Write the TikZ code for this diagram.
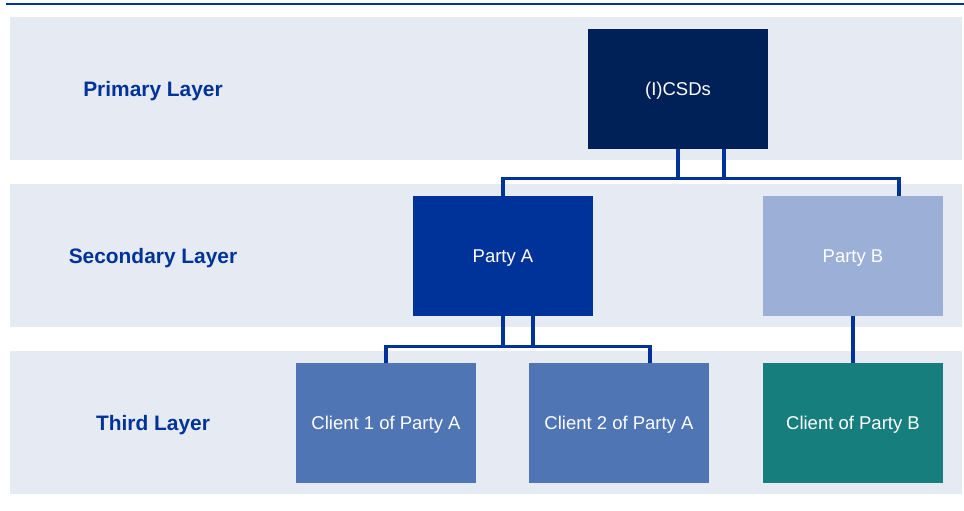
\documentclass[tikz,border=0pt]{standalone}
\usepackage{fontspec}
\setmainfont{Liberation Sans}
\definecolor{bandc}{HTML}{E6EAF3}
\definecolor{navy}{HTML}{002157}
\definecolor{blueA}{HTML}{003399}
\definecolor{blueB}{HTML}{9BAFD7}
\definecolor{clientA}{HTML}{4F75B5}
\definecolor{clientB}{HTML}{177E7E}
\definecolor{linec}{HTML}{003399}
\tikzset{
  band/.style={fill=bandc, draw=none},
  box/.style={rectangle, draw=none, minimum width=180pt, minimum height=120pt, inner sep=0pt,
    text=white, font=\fontsize{18.5}{21}\selectfont, text height=13.2pt, text depth=0pt},
  layerlabel/.style={text=linec, font=\fontsize{20.9}{24}\selectfont\bfseries, inner sep=0pt,
    text height=15pt, text depth=0pt},
  conn/.style={draw=linec, line width=3.2pt}
}
\begin{document}
\begin{tikzpicture}[x=1pt,y=-1pt]
\useasboundingbox (0,0) rectangle (964,511);
% top rule
\draw[draw=linec, line width=2.5pt] (6,4) -- (964,4);
% bands
\fill[band] (10,17) rectangle (962,160);
\fill[band] (10,184) rectangle (962,327);
\fill[band] (10,351) rectangle (962,494);
% layer labels
\node[layerlabel] (l1) at (153,88.5) {Primary Layer};
\node[layerlabel] (l2) at (153,255.5) {Secondary Layer};
\node[layerlabel] (l3) at (153,422.5) {Third Layer};
% boxes
\node[box, fill=navy] (csds) at (678,89) {(I)CSDs};
\node[box, fill=blueA] (pa) at (503,256) {Party A};
\node[box, fill=blueB] (pb) at (853,256) {Party B};
\node[box, fill=clientA] (c1) at (386,423) {Client 1 of Party A};
\node[box, fill=clientA] (c2) at (619,423) {Client 2 of Party A};
\node[box, fill=clientB] (cb) at (853,423) {Client of Party B};
% connectors
\draw[conn] ([xshift=46pt]csds.south) -- ++(0,29) -| (pa.north);
\draw[conn] (csds.south) -- ++(0,29) -| ([xshift=46pt]pb.north);
\draw[conn] ([xshift=30pt]pa.south) -- ++(0,30) -| (c1.north);
\draw[conn] (pa.south) -- ++(0,30) -| ([xshift=31pt]c2.north);
\draw[conn] (pb.south) -- (cb.north);
\end{tikzpicture}
\end{document}
